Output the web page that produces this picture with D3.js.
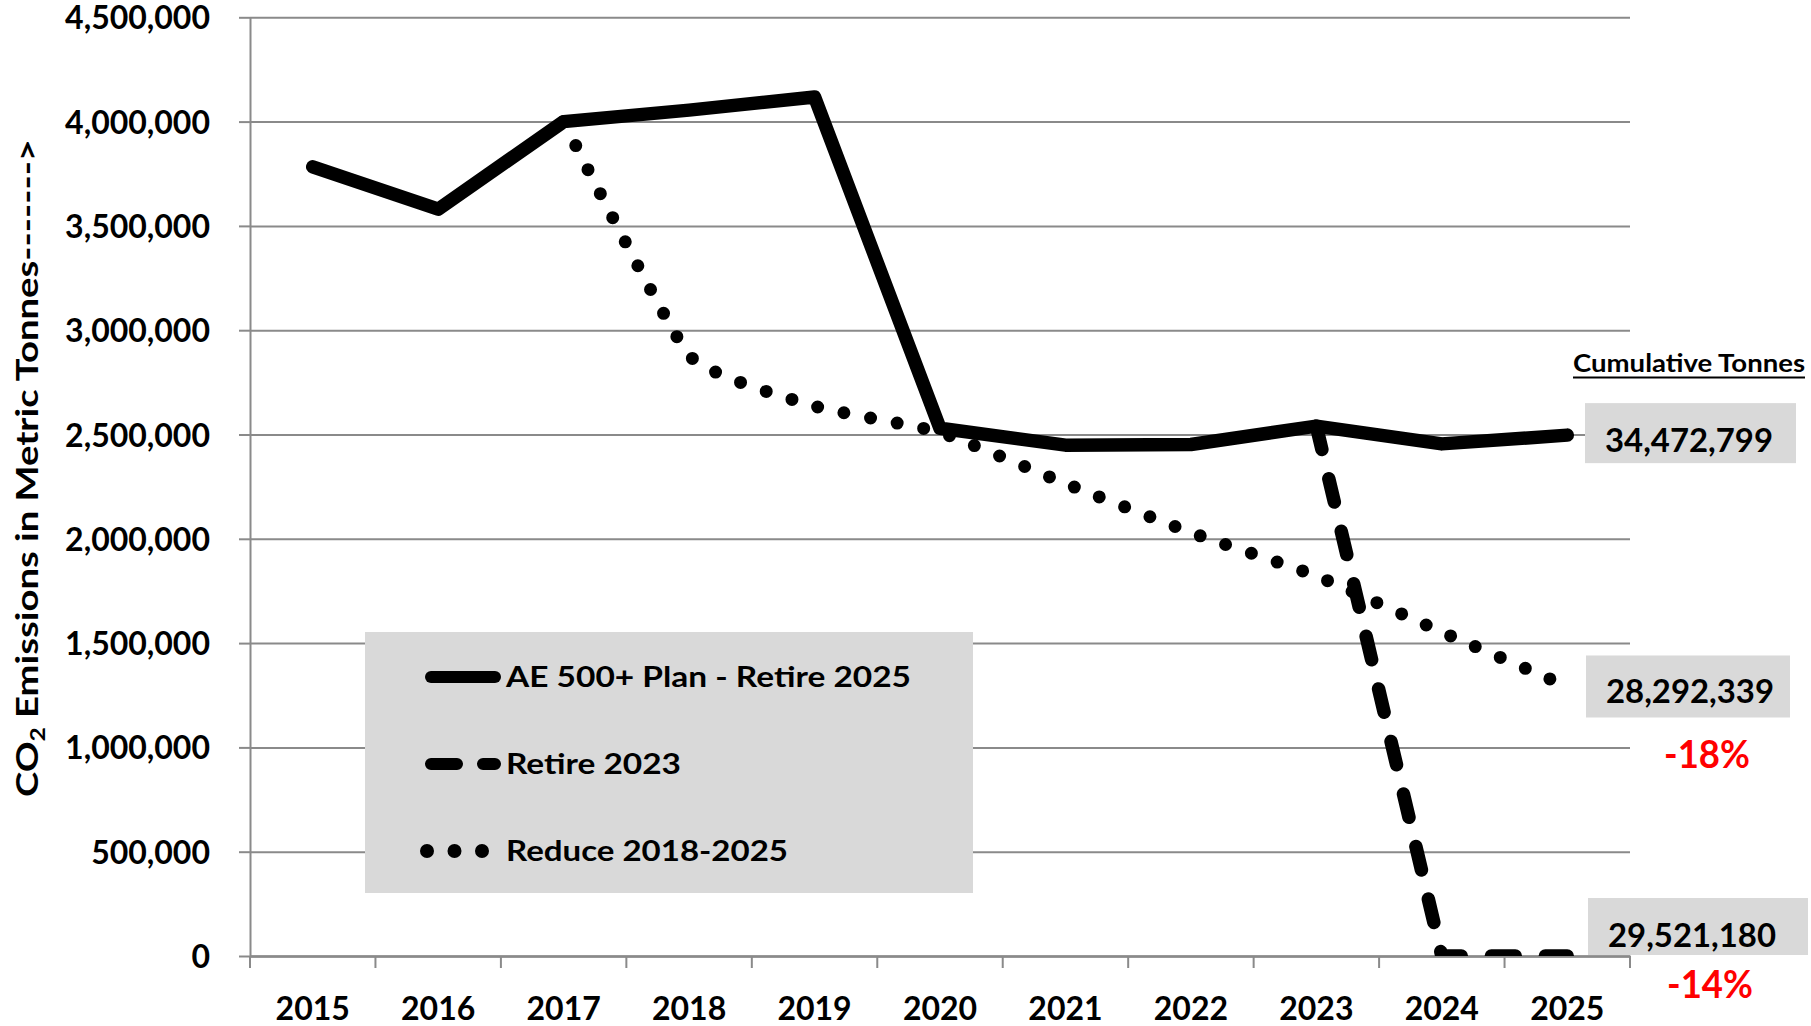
<!DOCTYPE html>
<html>
<head>
<meta charset="utf-8">
<script src="https://cdn.jsdelivr.net/npm/d3@7"></script>
<style>
  html, body { margin: 0; padding: 0; background: #ffffff; }
  svg { display: block; }
  text { font-family: Lato, "Open Sans", sans-serif; font-weight: 700; }
</style>
</head>
<body>
<svg id="chart" width="1811" height="1026"></svg>
<script>
// ---- Data (metric tonnes of CO2 per year) ----
const years = [2015, 2016, 2017, 2018, 2019, 2020, 2021, 2022, 2023, 2024, 2025];
const aePlan = [3783000, 3580000, 4000000, 4055000, 4118000, 2530000, 2449000, 2452000, 2540000, 2455000, 2497000];
const retire2023 = [null, null, null, null, null, null, null, null, 2540000, 0, 0];
const reduce2018 = [null, null, 4000000, 2880000, 2636000, 2510000, 2265000, 2030000, 1822000, 1553000, 1292000];
const yTicks = [0, 500000, 1000000, 1500000, 2000000, 2500000, 3000000, 3500000, 4000000, 4500000];
const seriesNames = ["AE 500+ Plan - Retire 2025", "Retire 2023", "Reduce 2018-2025"];
const cumulativeTotals = [34472799, 28292339, 29521180];
const changeVsPlan = ["-18%", "-14%"];

// ---- Layout ----
const W = 1811, H = 1026;
const plot = { left: 250, right: 1630, top: 17.3, bottom: 956 };
const gridColor = "#8a8a8a";

const svg = d3.select("#chart");

const x = d3.scaleBand().domain(years).range([plot.left, plot.right]).padding(0);
const y = d3.scaleLinear().domain([0, 4500000]).range([plot.bottom, plot.top]);
const cx = d => x(d) + x.bandwidth() / 2;

// Horizontal gridlines
svg.append("g")
  .attr("transform", `translate(${plot.left},0)`)
  .call(d3.axisLeft(y).tickValues(yTicks).tickSize(-(plot.right - plot.left)).tickFormat(""))
  .call(g => g.select(".domain").remove())
  .selectAll("line")
  .attr("stroke", gridColor)
  .attr("stroke-width", 2);

// Y axis with labels
const yAxis = svg.append("g")
  .attr("transform", `translate(${plot.left},0)`)
  .call(d3.axisLeft(y).tickValues(yTicks).tickSize(11).tickSizeOuter(0).tickPadding(29).tickFormat(d3.format(",")));
yAxis.attr("font-family", "Lato, 'Open Sans', sans-serif").attr("font-size", 32).attr("font-weight", 700);
yAxis.select(".domain").attr("stroke", gridColor).attr("stroke-width", 2);
yAxis.selectAll(".tick line").attr("stroke", gridColor).attr("stroke-width", 2);
yAxis.selectAll(".tick text").attr("fill", "#000").attr("dy", "0.36em");

// X axis with labels
const xAxis = svg.append("g")
  .attr("transform", `translate(0,${plot.bottom})`)
  .call(d3.axisBottom(x).tickSize(0).tickSizeOuter(0).tickPadding(41));
xAxis.attr("font-family", "Lato, 'Open Sans', sans-serif").attr("font-size", 32).attr("font-weight", 700);
xAxis.select(".domain").attr("stroke", gridColor).attr("stroke-width", 2.5);
xAxis.selectAll(".tick text").attr("fill", "#000");

// Category boundary tick marks
const boundaries = years.map(d => x(d)).concat([x.range()[1]]);
svg.append("g").selectAll("line")
  .data(boundaries)
  .join("line")
  .attr("x1", d => d).attr("x2", d => d)
  .attr("y1", plot.bottom).attr("y2", plot.bottom + 12)
  .attr("stroke", gridColor)
  .attr("stroke-width", 2);

// Clip the series at the bottom of the plot area
svg.append("clipPath").attr("id", "plotClip")
  .append("rect").attr("x", 0).attr("y", 0).attr("width", W).attr("height", plot.bottom);

const toPoints = arr => years.map((yr, i) => ({ year: yr, v: arr[i] }));
const lineGen = d3.line()
  .defined(d => d.v != null)
  .x(d => cx(d.year))
  .y(d => y(d.v));
const smoothGen = d3.line()
  .defined(d => d.v != null)
  .x(d => cx(d.year))
  .y(d => y(d.v))
  .curve(d3.curveCardinal.tension(0.55));

const series = svg.append("g").attr("clip-path", "url(#plotClip)");

series.append("path")
  .attr("d", lineGen(toPoints(aePlan)))
  .attr("fill", "none")
  .attr("stroke", "#000")
  .attr("stroke-width", 13.5)
  .attr("stroke-linecap", "round")
  .attr("stroke-linejoin", "round");

series.append("path")
  .attr("d", lineGen(toPoints(retire2023)))
  .attr("fill", "none")
  .attr("stroke", "#000")
  .attr("stroke-width", 13.5)
  .attr("stroke-linecap", "round")
  .attr("stroke-dasharray", "24 30");

series.append("path")
  .attr("d", smoothGen(toPoints(reduce2018)))
  .attr("fill", "none")
  .attr("stroke", "#000")
  .attr("stroke-width", 13)
  .attr("stroke-linecap", "round")
  .attr("stroke-dasharray", "0 27");

// ---- Legend ----
const legend = svg.append("g");
legend.append("rect")
  .attr("x", 365).attr("y", 632).attr("width", 608).attr("height", 261)
  .attr("fill", "#d9d9d9");

const legendRows = [677, 764, 851];
const legendStyles = [
  { dash: null, width: 12 },
  { dash: "26 26", width: 12 },
  { dash: "0 27.5", width: 14 }
];
const legendTextLen = [405, 175, 282];

seriesNames.forEach((name, i) => {
  const ry = legendRows[i];
  const st = legendStyles[i];
  const ln = legend.append("line")
    .attr("x1", i === 2 ? 427 : 431).attr("x2", 495)
    .attr("y1", ry).attr("y2", ry)
    .attr("stroke", "#000")
    .attr("stroke-width", st.width)
    .attr("stroke-linecap", "round");
  if (st.dash) ln.attr("stroke-dasharray", st.dash);
  legend.append("text")
    .attr("x", 506).attr("y", ry + 10)
    .attr("font-size", 28)
    .attr("textLength", legendTextLen[i])
    .attr("lengthAdjust", "spacingAndGlyphs")
    .attr("fill", "#000")
    .text(name);
});

// ---- Y axis title ----
const yTitle = svg.append("text")
  .attr("transform", "translate(38,468) rotate(-90)")
  .attr("text-anchor", "middle")
  .attr("font-size", 31)
  .attr("textLength", 658)
  .attr("lengthAdjust", "spacingAndGlyphs")
  .attr("fill", "#000");
yTitle.append("tspan").text("CO");
yTitle.append("tspan").attr("font-size", 20).attr("dy", 7).text("2");
yTitle.append("tspan").attr("dy", -7).text(" Emissions in Metric Tonnes------->");

// ---- Cumulative totals ----
const fmt = d3.format(",");
svg.append("text")
  .attr("x", 1573).attr("y", 372)
  .attr("font-size", 25)
  .attr("textLength", 232)
  .attr("lengthAdjust", "spacingAndGlyphs")
  .attr("fill", "#000")
  .text("Cumulative Tonnes");
svg.append("line")
  .attr("x1", 1573).attr("x2", 1805)
  .attr("y1", 377.5).attr("y2", 377.5)
  .attr("stroke", "#000").attr("stroke-width", 2);

const boxes = [
  { x: 1585, w: 211, top: y(aePlan[10]) - 32, h: 60, tx: 1689, base: y(aePlan[10]) + 17 },
  { x: 1586, w: 204, top: y(reduce2018[10]) - 31, h: 62, tx: 1690, base: y(reduce2018[10]) + 17 },
  { x: 1588, w: 220, top: y(retire2023[10]) - 58, h: 57, tx: 1692, base: y(retire2023[10]) - 9 }
];
boxes.forEach((b, i) => {
  svg.append("rect")
    .attr("x", b.x).attr("y", b.top).attr("width", b.w).attr("height", b.h)
    .attr("fill", "#d9d9d9");
  svg.append("text")
    .attr("x", b.tx).attr("y", b.base)
    .attr("text-anchor", "middle")
    .attr("font-size", 33)
    .attr("textLength", 168)
    .attr("lengthAdjust", "spacingAndGlyphs")
    .attr("fill", "#000")
    .text(fmt(cumulativeTotals[i]));
});

// Percent change versus the plan
const pctPos = [{ x: 1664, base: 768 }, { x: 1667, base: 998 }];
changeVsPlan.forEach((t, i) => {
  svg.append("text")
    .attr("x", pctPos[i].x).attr("y", pctPos[i].base)
    .attr("font-size", 38)
    .attr("textLength", 86)
    .attr("lengthAdjust", "spacingAndGlyphs")
    .attr("fill", "#ff0000")
    .text(t);
});
</script>
</body>
</html>
